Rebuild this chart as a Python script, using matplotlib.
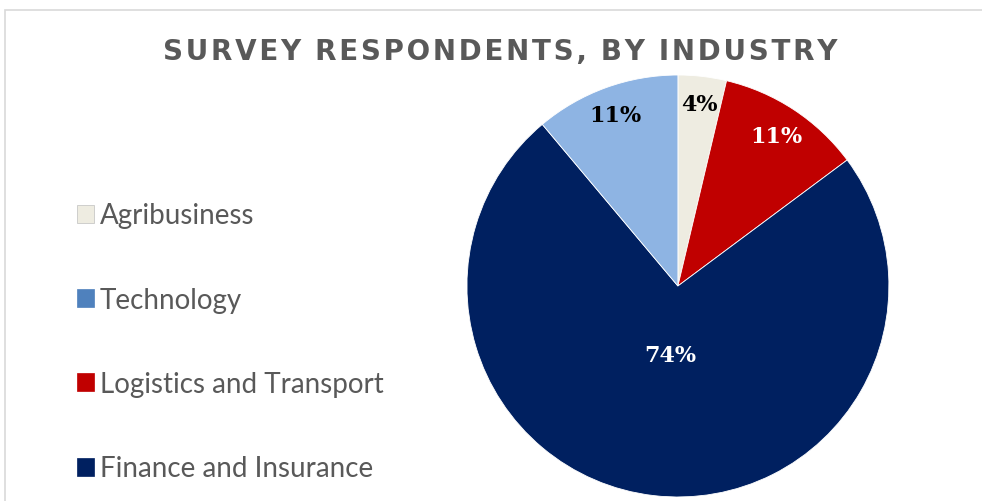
import matplotlib
matplotlib.use("Agg")
import matplotlib.pyplot as plt
from matplotlib.patches import Rectangle, Patch
import numpy as np

categories = ["Agribusiness", "Logistics and Transport", "Finance and Insurance", "Technology"]
counts = [1, 3, 20, 3]
pct_labels = ["4%", "11%", "74%", "11%"]
legend_order = ["Agribusiness", "Technology", "Logistics and Transport", "Finance and Insurance"]

slice_colors = {"Agribusiness": "#EEECE1", "Logistics and Transport": "#C00000",
                "Finance and Insurance": "#002060", "Technology": "#8EB4E3"}
legend_colors = {"Agribusiness": "#EEECE1", "Technology": "#4F81BD",
                 "Logistics and Transport": "#C00000", "Finance and Insurance": "#002060"}
label_colors = ["#000000", "#FFFFFF", "#FFFFFF", "#000000"]
label_dist = [0.87, 0.85, 0.33, 0.86]

fig = plt.figure(figsize=(9.82, 5.02), dpi=100)
fig.patch.set_facecolor("white")

# frame border
fig.patches.append(Rectangle((5/982, -0.05), 1.0, (502-11)/502 + 0.05, transform=fig.transFigure,
                             fill=False, edgecolor="#D9D9D9", linewidth=1.2))

# cut-off caption at very top
fig.text(0.13, 1.013, "Survey respondents by industry, 2019", fontsize=14, fontstyle="italic",
         fontweight="bold", color="black", ha="left", va="baseline", family="DejaVu Sans")

# title
fig.text(0.509, 0.897, "S U R V E Y   R E S P O N D E N T S ,   B Y   I N D U S T R Y".replace("   ", "\u2002").replace(" ", "\u200a"),
         fontsize=20, fontweight="bold", color="#595959", ha="center", va="center", family="DejaVu Sans")

ax = fig.add_axes([0.4755, 0.008, 0.4297, 0.8406])
wedges, _ = ax.pie(counts, colors=[slice_colors[c] for c in categories], startangle=90,
                   counterclock=False, radius=1.0,
                   wedgeprops=dict(edgecolor="white", linewidth=0.6))
ax.set_xlim(-1, 1)
ax.set_ylim(-1, 1)
ax.set_aspect("equal")

total = sum(counts)
start = 90.0
for i, c in enumerate(counts):
    sweep = c / total * 360
    mid = np.deg2rad(start - sweep / 2)
    start -= sweep
    r = label_dist[i]
    ax.text(r * np.cos(mid), r * np.sin(mid), pct_labels[i], ha="center", va="center",
            fontsize=16, fontweight="bold", color=label_colors[i], family="DejaVu Serif")

handles = [Patch(facecolor=legend_colors[c], edgecolor="#BFBFBF" if c == "Agribusiness" else legend_colors[c],
                 linewidth=0.5) for c in legend_order]
leg = fig.legend(handles, legend_order, loc="center left", bbox_to_anchor=(0.053, 0.317),
                 frameon=False, labelspacing=2.1, handlelength=0.62,
                 handleheight=0.62, handletextpad=0.2, prop=dict(family="Lato", size=20))
for t in leg.get_texts():
    t.set_color("#595959")

fig.savefig("out.png", dpi=100)
